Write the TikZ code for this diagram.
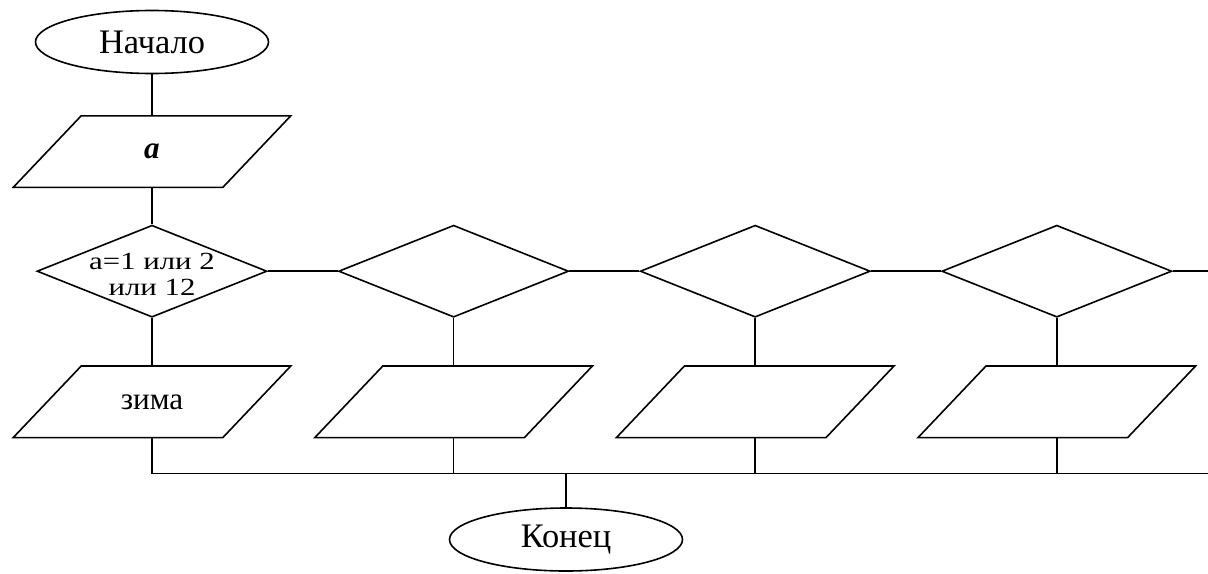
\documentclass[tikz,border=0pt]{standalone}
\usepackage{fontspec}
\setmainfont{Liberation Serif}
\newfontfamily\lserif{Liberation Serif}
\usetikzlibrary{positioning,shapes.geometric}

\begin{document}
\begin{tikzpicture}[
  line width=0.8pt,
  node distance=35pt,
  terminal/.style={draw, ellipse, minimum width=116.5pt, minimum height=31.5pt, inner sep=0pt, font=\lserif\fontsize{17.2}{20}\selectfont},
  io/.style={minimum width=138pt, minimum height=35pt, inner sep=0pt, font=\lserif\fontsize{15.6}{18}\selectfont,
    append after command={\pgfextra{\draw ([xshift=34pt]\tikzlastnode.north west) -- (\tikzlastnode.north east)
      -- ([xshift=-34pt]\tikzlastnode.south east) -- (\tikzlastnode.south west) -- cycle;}}},
  decision/.style={draw, diamond, minimum width=115pt, minimum height=46pt, inner sep=0pt},
  dtext/.style={font=\lserif\fontsize{15.4}{16.5}\selectfont, align=center, yscale=0.8, transform shape, yshift=-2pt},
  link/.style={-}
]
\useasboundingbox (0,0) rectangle (604pt,-286.5pt);
\coordinate (rim) at (604pt,0);

\node[terminal] (start) at (76pt,-21pt) {Начало};
\node[io, below=20.75pt of start] (input) {\textbf{\textit{a}}};
\node[decision, below=18.5pt of input, label={[dtext]center:{a=1 или 2\\или 12}}] (q1) {};
\node[io, below=24pt of q1] (out1) {зима};

\node[decision, right=of q1] (q2) {};
\node[decision, right=of q2] (q3) {};
\node[decision, right=of q3] (q4) {};
\node[io, below=24pt of q2] (out2) {};
\node[io, below=24pt of q3] (out3) {};
\node[io, below=24pt of q4] (out4) {};

\coordinate[below=18pt of out1.south] (busL);
\node[terminal] (end) at (283pt,-269.75pt) {Конец};

\draw[link] (start) -- (input);
\draw[link] (input) -- (q1);
\draw[link] (q1) -- (out1);
\draw[link] (q1.east) -- (q2.west);
\draw[link] (q2.east) -- (q3.west);
\draw[link] (q3.east) -- (q4.west);
\draw[link] (q4.east) -- (q4.east -| rim);
\draw[link] (q2) -- (out2);
\draw[link] (q3) -- (out3);
\draw[link] (q4) -- (out4);

\draw[link] (out1.south) -- (busL) -- (busL -| rim);
\draw[link] (out2.south) -- (out2.south |- busL);
\draw[link] (out3.south) -- (out3.south |- busL);
\draw[link] (out4.south) -- (out4.south |- busL);
\draw[link] (end.north) -- (end.north |- busL);
\end{tikzpicture}
\end{document}
